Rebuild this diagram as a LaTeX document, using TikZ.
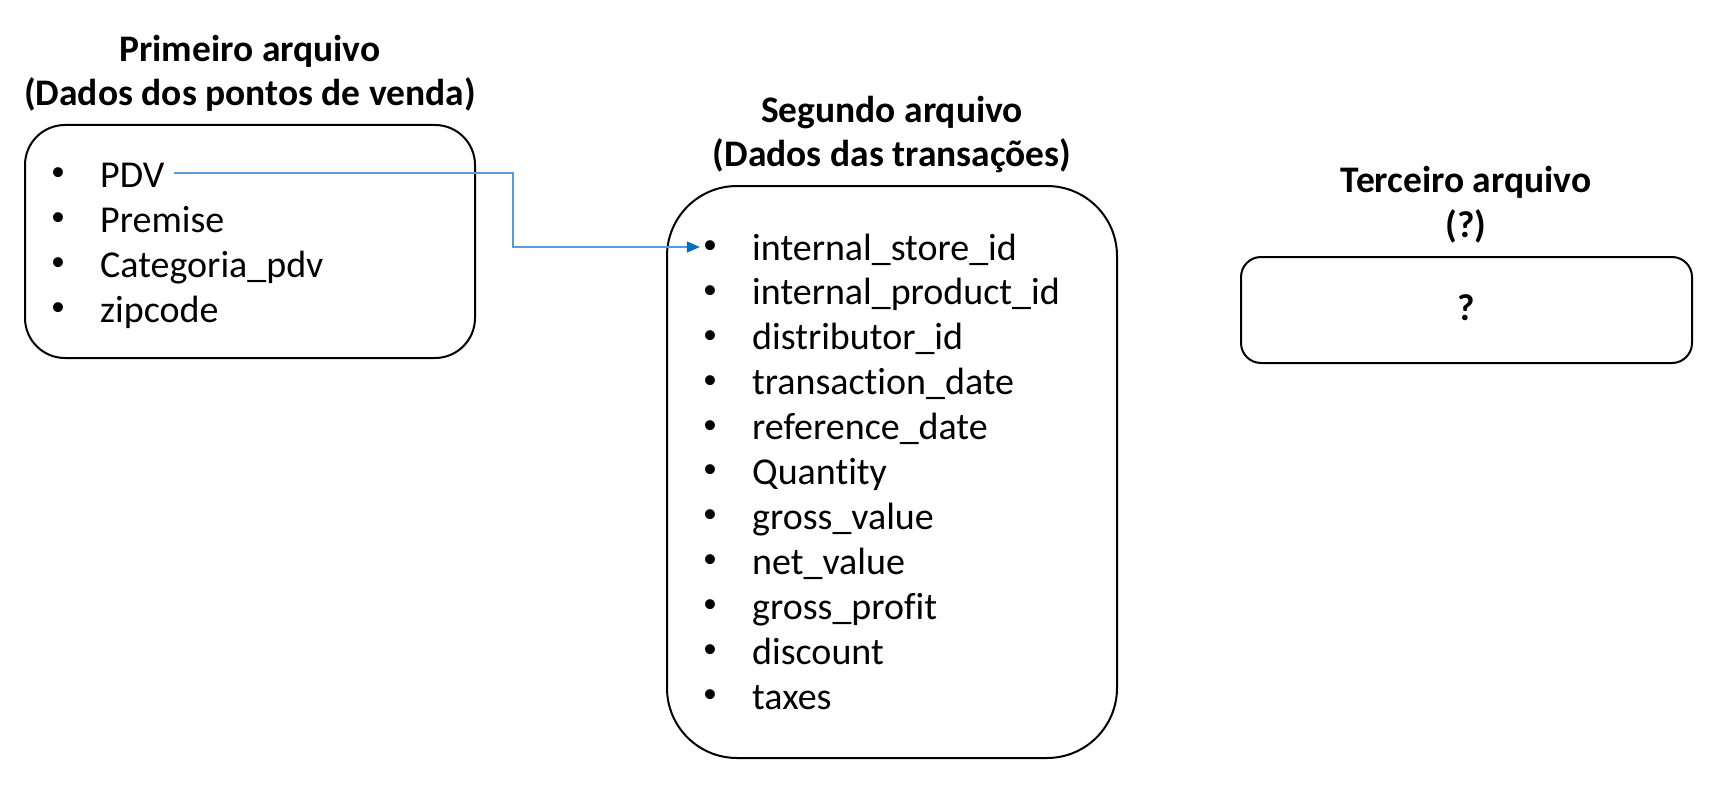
\documentclass[tikz,border=0pt]{standalone}
\usepackage{fontspec}
\setmainfont{Carlito}[Ligatures=NoCommon]
\usetikzlibrary{arrows.meta,calc}
\definecolor{lineblue}{HTML}{5B9BD5}
\definecolor{tipblue}{HTML}{0070C0}
\tikzset{
  filebox/.style={draw=black, line width=2pt, rectangle},
  titletext/.style={anchor=base, inner sep=0pt, font=\fontsize{37.5}{44}\selectfont\bfseries},
  itemtext/.style={anchor=base west, inner sep=0pt, font=\fontsize{38}{45}\selectfont},
  bullettext/.style={anchor=center, inner sep=0pt, font=\fontsize{28}{30}\selectfont},
  link/.style={draw=lineblue, line width=1.5pt, -{Triangle[color=tipblue,length=13pt,width=11pt]}},
}
\begin{document}
\begin{tikzpicture}[x=1pt,y=-1pt]
\useasboundingbox (0,0) rectangle (1716,789);
% boxes
\draw[filebox, rounded corners=40pt] (25,125) rectangle (475,358);
\draw[filebox, rounded corners=70pt] (667,186) rectangle (1117,758);
\draw[filebox, rounded corners=20pt] (1241,257) rectangle (1692,363);
% titles
\node[titletext] (t1a) at (250,62) {Primeiro arquivo};
\node[titletext] (t1b) at (250,106) {(Dados dos pontos de venda)};
\node[titletext] (t2a) at (892,123) {Segundo arquivo};
\node[titletext] (t2b) at (892,166) {(Dados das transações)};
\node[titletext] (t3a) at (1466,193) {Terceiro arquivo};
\node[titletext] (t3b) at (1466,237) {(?)};
\node[titletext] (q3) at (1466,320) {?};
% first file items
\foreach \t [count=\i] in {PDV,Premise,Categoria\_pdv,zipcode}{
  \node[bullettext] (a\i) at (58,{187+45*(\i-1)-13}) {•};
  \node[itemtext] (at\i) at (100,{187+45*(\i-1)}) {\t};
}
% second file items
\foreach \t [count=\i] in {internal\_store\_id,internal\_product\_id,distributor\_id,transaction\_date,reference\_date,Quantity,gross\_value,net\_value,gross\_profit,discount,taxes}{
  \node[bullettext] (b\i) at (710,{260+44.9*(\i-1)-13}) {•};
  \node[itemtext] (bt\i) at (752,{260+44.9*(\i-1)}) {\t};
}
% connector
\coordinate (ex) at (513,0);
\coordinate (elbowtop) at (ex |- 0,173);
\coordinate (elbow) at (ex |- b1.west);
\draw[link, shorten <=9pt, shorten >=3pt] (at1.east |- elbowtop) -- (elbowtop) -- (elbow) -- (b1.west);
\end{tikzpicture}
\end{document}
